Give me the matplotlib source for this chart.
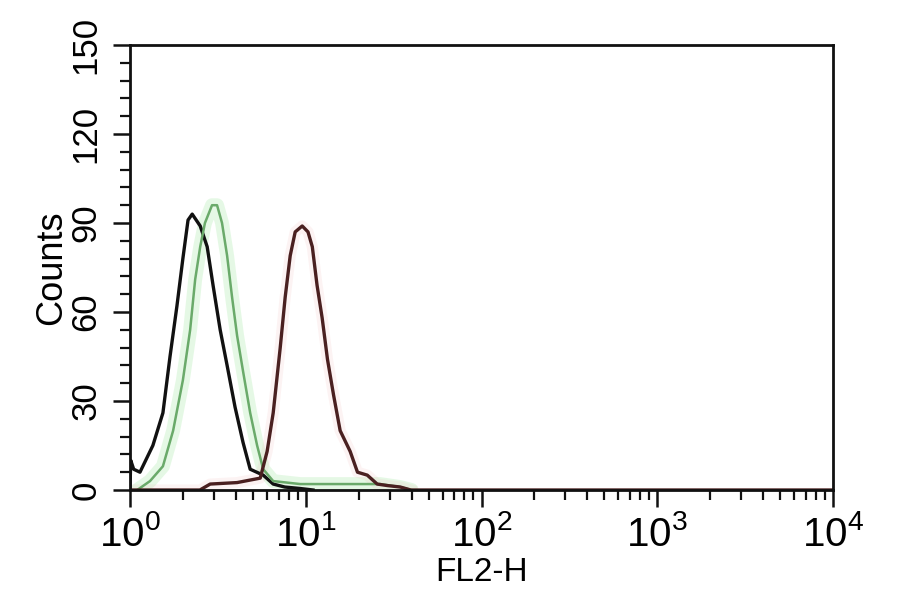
import numpy as np
import matplotlib
matplotlib.use('Agg')
import matplotlib.pyplot as plt
from matplotlib.ticker import LogLocator, MultipleLocator

plt.rcParams['font.family'] = ['Liberation Sans', 'DejaVu Sans']

# FL2-H 通道直方图
black_x = [1.0, 1.01, 1.05, 1.14, 1.35, 1.54, 1.69, 1.85, 2.0, 2.14, 2.26, 2.51, 2.75,
           2.97, 3.26, 3.57, 3.96, 4.40, 4.83, 5.73, 6.53, 7.6, 9.3, 11.0]
black_y = [0, 10, 7, 6, 15, 26, 45, 62, 78, 91, 93, 89, 82,
           69, 54, 42, 28, 16, 7, 5, 2, 1, 0.5, 0]

green_x = [1.1, 1.30, 1.54, 1.76, 2.0, 2.2, 2.35, 2.51, 2.67, 2.93, 3.13, 3.34, 3.57,
           3.81, 4.07, 4.40, 4.83, 5.29, 5.73, 6.53, 9.3, 17.9, 26.5, 34.5, 40.0]
green_y = [0, 3, 8, 20, 37, 54, 71, 82, 90, 96, 96, 90, 79,
           65, 52, 40, 26, 15, 7, 3, 2, 2, 2, 1, 0]

red_x = [1.0, 2.5, 2.86, 4.07, 5.51, 6.03, 6.53, 7.16, 7.64, 8.16, 8.71, 9.55, 10.3,
         10.9, 11.6, 12.4, 13.3, 14.4, 15.7, 17.9, 19.7, 22.4, 25.5, 29.1, 34.5,
         39.6, 10000.0]
red_y = [0, 0, 2, 2.5, 4, 13, 26, 48, 65, 79, 87, 89, 87,
         82, 69, 58, 44, 32, 20, 13, 6, 5, 2, 1.5, 1,
         0, 0]

fig = plt.figure(figsize=(9, 5.94), dpi=100)
ax = fig.add_axes([0.1444, 0.1751, 0.7812, 0.7491])

# 淡色光晕 + 主线
ax.plot(green_x, green_y, color='#7ee07e', lw=10, alpha=0.2, solid_capstyle='round')
ax.plot(red_x[:-1], red_y[:-1], color='#f0b0b0', lw=8, alpha=0.15)
ax.plot(black_x, black_y, color='#111111', lw=2.4)
ax.plot(green_x, green_y, color='#6aaa6a', lw=1.8)
ax.plot(red_x, red_y, color='#4a2020', lw=2.4)

ax.set_xscale('log')
ax.set_xlim(1, 1e4)
ax.set_ylim(0, 150)

ax.xaxis.set_major_locator(LogLocator(base=10, numticks=10))
ax.xaxis.set_minor_locator(LogLocator(base=10, subs=np.arange(2, 10), numticks=50))
ax.yaxis.set_major_locator(MultipleLocator(30))
ax.yaxis.set_minor_locator(MultipleLocator(6))

ax.tick_params(axis='both', which='major', length=12, width=1.8, color='#111111')
ax.tick_params(axis='both', which='minor', length=7, width=1.6, color='#111111')
ax.tick_params(axis='x', which='major', pad=6, labelsize=29)
ax.tick_params(axis='y', which='major', pad=8, labelrotation=90, labelsize=25)
for lab in ax.get_yticklabels():
    lab.set_va('center')

for sp in ax.spines.values():
    sp.set_linewidth(2.0)
    sp.set_color('#111111')

ax.set_xlabel('FL2-H', fontsize=24, labelpad=2)
ax.set_ylabel('Counts', fontsize=26, labelpad=0)

fig.savefig('out.png', dpi=100)
